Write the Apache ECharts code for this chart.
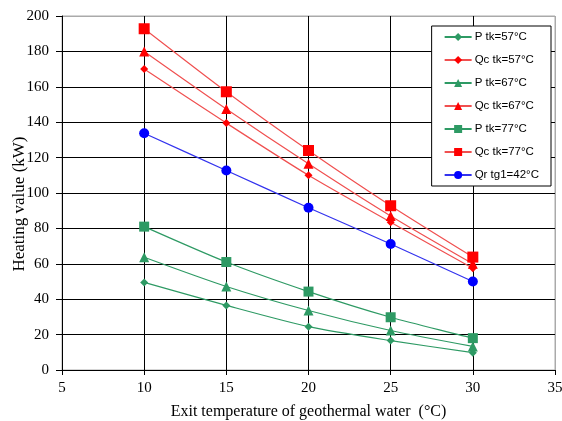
<!DOCTYPE html>
<html><head><meta charset="utf-8">
<script src="https://cdn.jsdelivr.net/npm/echarts@6/dist/echarts.min.js"></script>
<style>html,body{margin:0;padding:0;background:#fff}#c{width:562px;height:421px}</style>
</head><body><div id="c"></div>
<script>
var xValues = [10, 15, 20, 25, 30];
var seriesNames = ['P tk=57°C', 'Qc tk=57°C', 'P tk=67°C', 'Qc tk=67°C', 'P tk=77°C', 'Qc tk=77°C', 'Qr tg1=42°C'];
var pTk57 = [49.5, 36.5, 24.5, 16.6, 9.8];
var qcTk57 = [170, 139.5, 110, 83.5, 57.5];
var pTk67 = [63.7, 47.2, 33.6, 22.3, 13.3];
var qcTk67 = [180, 147.5, 116.5, 87, 60];
var pTk77 = [81, 61, 44.3, 29.8, 18];
var qcTk77 = [192.8, 157.2, 124, 92.8, 63.8];
var qrTg1 = [133.8, 112.7, 91.7, 71.2, 50];

var green = '#2e9a64', red = '#ff0000', blue = '#0000ff';
function pts(arr){ return xValues.map(function(x,i){ return [x, arr[i]]; }); }
function mk(name, data, color, symbol, size, lineColor){
  return {name:name, type:'line', data:pts(data), smooth:0.25, symbol:symbol, symbolSize:size,
    itemStyle:{color:color}, lineStyle:{color:lineColor||color, width:1.2}};
}
var xSplit = ['#000','#000','#000','#000','#000','#000','#aaa'];
var ySplit = ['#000','#000','#000','#000','#000','#000','#000','#000','#000','#000','#aaa'];
var chart = echarts.init(document.getElementById('c'), null, {renderer:'canvas'});
chart.setOption({
  animation:false,
  grid:{left:62, right:7, top:16, bottom:51, show:true, borderColor:'#aaa', borderWidth:1,
    containLabel:false, outerBoundsMode:'none'},
  xAxis:{type:'value', min:5, max:35, interval:5,
    name:'Exit temperature of geothermal water  (°C)', nameLocation:'middle', nameGap:34,
    nameMoveOverlap:false,
    nameTextStyle:{fontFamily:'Liberation Serif', fontSize:16, color:'#000'},
    axisLine:{show:true, onZero:false, lineStyle:{color:'#000'}},
    axisTick:{show:true, length:5, lineStyle:{color:'#000'}},
    axisLabel:{fontFamily:'Liberation Serif', fontSize:15, color:'#000', margin:11},
    splitLine:{show:true, lineStyle:{color:xSplit, width:1}}},
  yAxis:{type:'value', min:0, max:200, interval:20,
    name:'Heating value (kW)', nameLocation:'middle', nameGap:34,
    nameMoveOverlap:false,
    nameTextStyle:{fontFamily:'Liberation Serif', fontSize:17, color:'#000', padding:[0,22,0,0]},
    axisLine:{show:true, lineStyle:{color:'#000'}},
    axisTick:{show:true, length:6, lineStyle:{color:'#000'}},
    axisLabel:{fontFamily:'Liberation Serif', fontSize:15, color:'#000', margin:13},
    splitLine:{show:true, lineStyle:{color:ySplit, width:1}}},
  legend:{orient:'vertical', right:11, top:26, width:100,
    backgroundColor:'#fff', borderColor:'#000', borderWidth:1,
    padding:[5,12,5,12], itemWidth:27, itemHeight:10, itemGap:11,
    textStyle:{fontFamily:'Liberation Sans', fontSize:11.5, color:'#000', padding:[0,0,0,-2]},
    data:seriesNames},
  series:[
    mk(seriesNames[0], pTk57, green, 'diamond', 8),
    mk(seriesNames[1], qcTk57, red, 'diamond', 8, '#f05050'),
    mk(seriesNames[2], pTk67, green, 'triangle', 10),
    mk(seriesNames[3], qcTk67, red, 'triangle', 10, '#f05050'),
    mk(seriesNames[4], pTk77, green, 'rect', 10),
    mk(seriesNames[5], qcTk77, red, 'rect', 11, '#f05050'),
    mk(seriesNames[6], qrTg1, blue, 'circle', 10, '#3333ee')
  ]
});
</script></body></html>
